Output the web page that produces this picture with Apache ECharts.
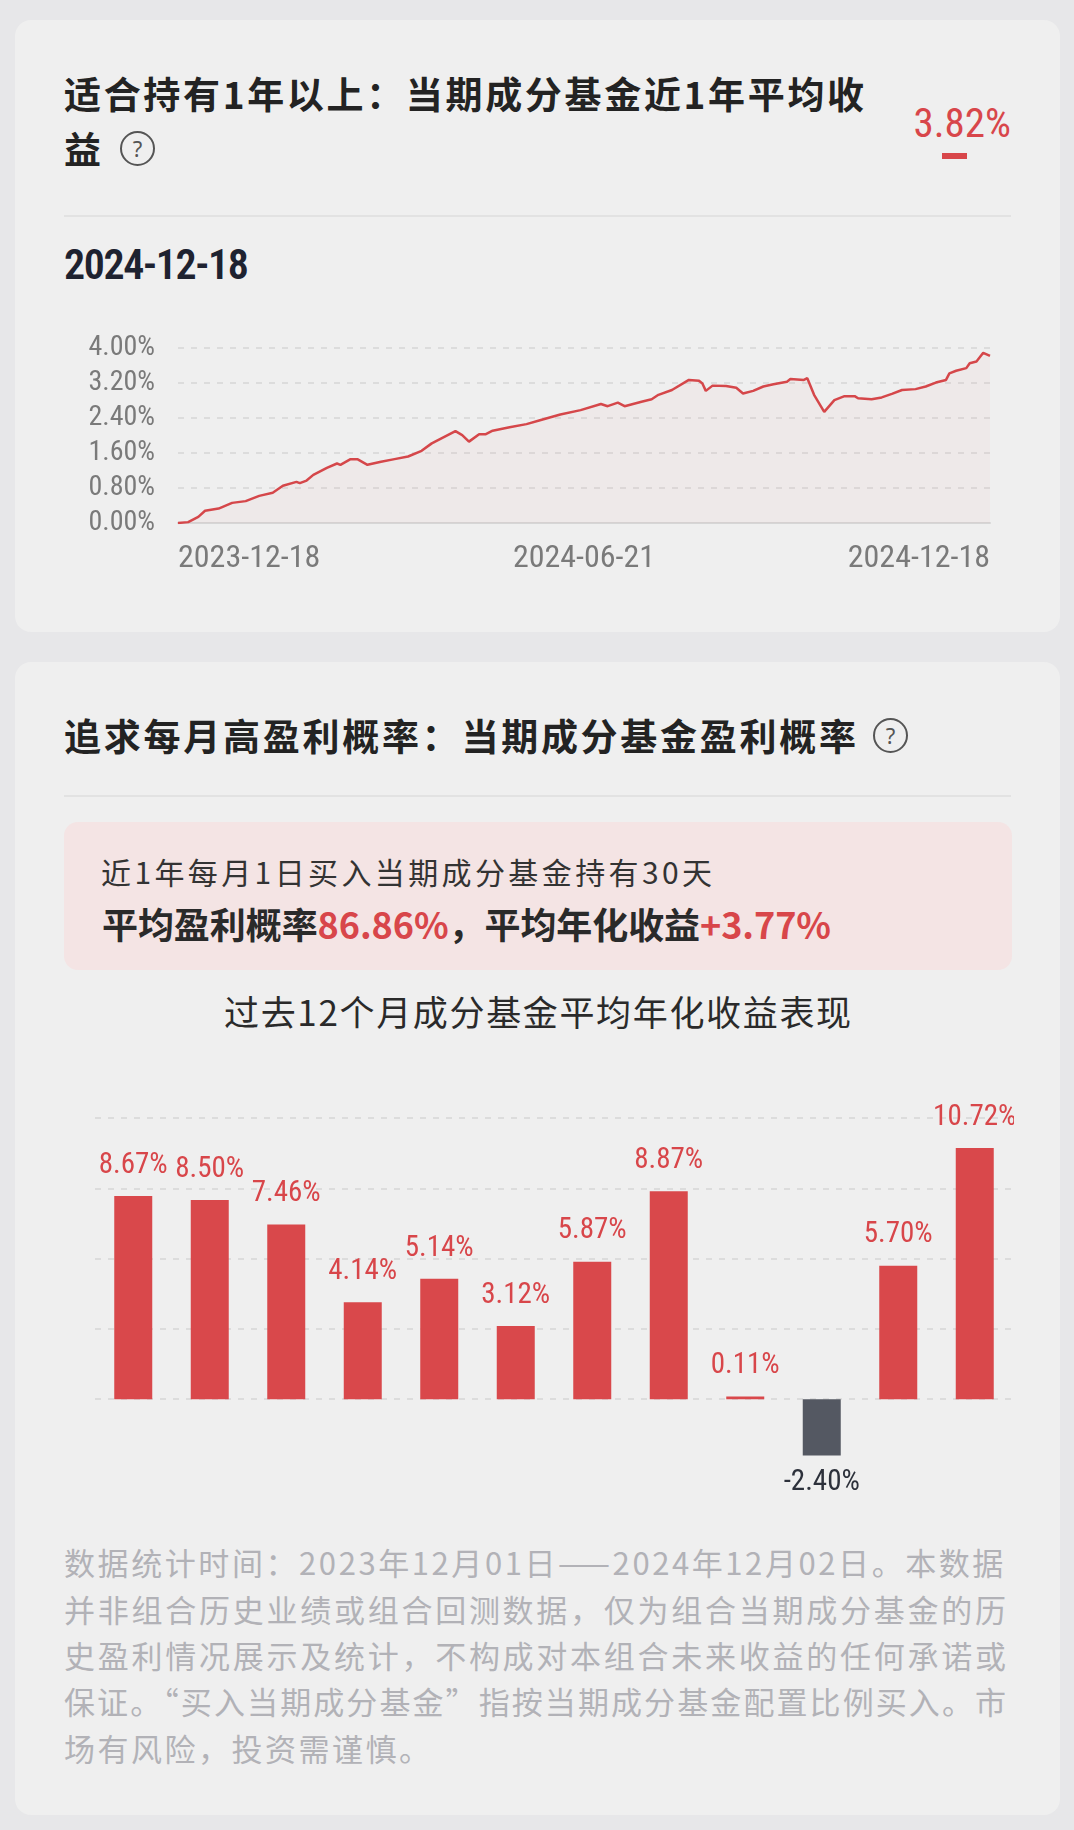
<!DOCTYPE html>
<html>
<head>
<meta charset="utf-8">
<script src="https://cdn.jsdelivr.net/npm/echarts@6/dist/echarts.min.js"></script>
<style>
  html, body { margin: 0; padding: 0; }
  body { width: 1074px; height: 1830px; background: #e7e7e9; position: relative; overflow: hidden;
         font-family: "Noto Sans CJK SC", "Noto Sans", sans-serif; }
  .card { position: absolute; left: 15px; width: 1045px; background: #efefef; border-radius: 16px; }
  .abs { position: absolute; white-space: nowrap; }
  .title { font-size: 37px; font-weight: 700; color: #232323; line-height: 50px; }
  .num { font-family: "Roboto Condensed", Roboto, sans-serif; }
  .qm { position: absolute; width: 31px; height: 31px; border: 2px solid #555; border-radius: 50%;
        font-size: 22px; line-height: 31px; text-align: center; color: #555; font-family: "Noto Sans", sans-serif; }
  .divider { position: absolute; left: 64px; width: 947px; height: 2px; background: #e2e2e2; }
  .foot { font-size: 31px; color: #b2b2b7; line-height: 46px; left: 64px; }
  .red { color: #d8464a; }
</style>
</head>
<body>
<div class="card" style="top:20px;height:612px;"></div>
<div class="card" style="top:662px;height:1153px;"></div>

<!-- card 1 -->
<div class="abs title fit" data-w="800" style="left:64px;top:68px;">适合持有1年以上：当期成分基金近1年平均收</div>
<div class="abs title" style="left:64px;top:123px;">益</div>
<div class="qm" style="left:120px;top:131px;">?</div>
<div class="abs num red" style="right:63px;top:98px;font-size:41px;line-height:50px;">3.82%</div>
<div class="abs" style="left:942px;top:153px;width:25px;height:6px;background:#d8464a;"></div>
<div class="divider" style="top:215px;"></div>
<div class="abs num fit" data-w="185" style="left:64px;top:240px;font-size:42px;line-height:50px;font-weight:600;color:#1e2230;">2024-12-18</div>
<div id="lineChart" class="abs" style="left:0;top:300px;width:1074px;height:300px;"></div>

<!-- card 2 -->
<div class="abs title fit" data-w="792" style="left:64px;top:710px;">追求每月高盈利概率：当期成分基金盈利概率</div>
<div class="qm" style="left:873px;top:718px;">?</div>
<div class="divider" style="top:795px;"></div>
<div class="abs" style="left:64px;top:822px;width:948px;height:148px;background:#f4e4e4;border-radius:14px;"></div>
<div class="abs fit" data-w="611" style="left:101px;top:850px;font-size:30px;line-height:42px;color:#333;">近1年每月1日买入当期成分基金持有30天</div>
<div class="abs fit" data-w="729" style="left:102px;top:900px;font-size:36px;line-height:46px;font-weight:700;color:#2a2a2a;">平均盈利概率<span class="red">86.86%</span>，平均年化收益<span class="red">+3.77%</span></div>
<div class="abs fit" data-w="627" style="left:224px;top:988px;font-size:35px;line-height:46px;color:#2a2a2a;">过去12个月成分基金平均年化收益表现</div>
<div id="barChart" class="abs" style="left:0;top:1080px;width:1014px;height:430px;overflow:hidden;"></div>

<div class="abs foot fit" data-w="942" style="top:1539px;">数据统计时间：2023年12月01日——2024年12月02日。本数据</div>
<div class="abs foot fit" data-w="942" style="top:1586px;">并非组合历史业绩或组合回测数据，仅为组合当期成分基金的历</div>
<div class="abs foot fit" data-w="942" style="top:1632px;">史盈利情况展示及统计，不构成对本组合未来收益的任何承诺或</div>
<div class="abs foot fit" data-w="942" style="top:1678px;">保证。“买入当期成分基金”指按当期成分基金配置比例买入。市</div>
<div class="abs foot" style="top:1725px;letter-spacing:2.5px;">场有风险，投资需谨慎。</div>

<script>
// 近1年收益走势（交易日序号 / 收益%）
var lineDays = [0, 3, 6, 8, 12, 16, 20, 24, 28, 31, 35, 36, 38, 40, 44, 47, 48, 51, 53, 56,
    60, 64, 68, 72, 75, 78, 82, 84, 86, 89, 91, 93, 98, 103, 107, 113, 119, 125, 127, 130,
    132, 137, 140, 142, 146, 151, 154, 155, 156, 158, 162, 165, 167, 170, 173, 176, 180, 181, 185, 186,
    188, 191, 194, 197, 200, 201, 205, 208, 211, 214, 218, 221, 224, 227, 228, 230, 233, 234, 236, 238, 240];
var lineValues = [0.00, 0.02, 0.14, 0.28, 0.33, 0.46, 0.50, 0.62, 0.69, 0.85, 0.94, 0.91, 0.97, 1.10, 1.26, 1.36, 1.33, 1.46, 1.46, 1.33,
    1.40, 1.46, 1.52, 1.65, 1.82, 1.94, 2.10, 2.01, 1.86, 2.03, 2.03, 2.11, 2.19, 2.26, 2.35, 2.48, 2.58, 2.72, 2.67, 2.75,
    2.67, 2.77, 2.83, 2.93, 3.04, 3.27, 3.25, 3.19, 3.02, 3.14, 3.13, 3.09, 2.96, 3.02, 3.12, 3.17, 3.23, 3.29, 3.27, 3.31,
    2.93, 2.54, 2.81, 2.90, 2.90, 2.85, 2.83, 2.87, 2.95, 3.04, 3.06, 3.12, 3.21, 3.27, 3.42, 3.48, 3.54, 3.65, 3.69, 3.89, 3.82];
var lineTickLabels = ['2023-12-18', '2024-06-21', '2024-12-18'];

// 过去12个月平均年化收益
var months = ['2023-12', '2024-01', '2024-02', '2024-03', '2024-04', '2024-05',
    '2024-06', '2024-07', '2024-08', '2024-09', '2024-10', '2024-11'];
var monthReturns = [8.67, 8.50, 7.46, 4.14, 5.14, 3.12, 5.87, 8.87, 0.11, -2.40, 5.70, 10.72];

var RED = '#d8464a';
var numFont = '"Roboto Condensed", Roboto, sans-serif';

// 文字按目标宽度调整字距
document.querySelectorAll('.fit').forEach(function (el) {
    var target = +el.getAttribute('data-w');
    var n = el.textContent.length;
    var w = el.getBoundingClientRect().width;
    el.style.letterSpacing = ((target - w) / (n - 1)).toFixed(2) + 'px';
});

var lineChart = echarts.init(document.getElementById('lineChart'));
var linePoints = lineDays.map(function (d, i) { return [d, lineValues[i]]; });
lineChart.setOption({
    animation: false,
    grid: { left: 178, right: 84, top: 48, height: 175 },
    xAxis: {
        type: 'value', min: 0, max: 240, interval: 120,
        axisLine: { show: true, lineStyle: { color: '#d6d6d6', width: 2 } },
        axisTick: { show: false },
        splitLine: { show: false },
        axisLabel: {
            margin: 20, fontSize: 32, color: '#7a7a7a', fontFamily: numFont,
            alignMinLabel: 'left', alignMaxLabel: 'right',
            formatter: function (v) { return lineTickLabels[Math.round(v / 120)]; }
        }
    },
    yAxis: {
        type: 'value', min: 0, max: 4, interval: 0.8,
        axisLine: { show: false }, axisTick: { show: false },
        splitLine: { showMinLine: false, lineStyle: { color: '#d6d6d6', type: [6, 7], width: 1.5 } },
        axisLabel: {
            margin: 23, fontSize: 28, color: '#7a7a7a', fontFamily: numFont,
            formatter: function (v) { return v.toFixed(2) + '%'; }
        }
    },
    series: [{
        type: 'line', data: linePoints, showSymbol: false,
        lineStyle: { color: '#d5474a', width: 2.5 },
        areaStyle: { color: 'rgba(220,90,90,0.05)' }
    }]
});

var barChart = echarts.init(document.getElementById('barChart'));
var barData = monthReturns.map(function (v) {
    var neg = v < 0;
    return {
        value: v,
        itemStyle: { color: neg ? '#545862' : '#d9484b' },
        label: {
            position: neg ? 'bottom' : 'top',
            distance: neg ? 13 : 16,
            color: neg ? '#2d313b' : RED
        }
    };
});
barChart.setOption({
    animation: false,
    grid: { left: 95, right: 1, top: 38, height: 351.5 },
    xAxis: {
        type: 'category', data: months,
        axisLine: { show: false }, axisTick: { show: false }, axisLabel: { show: false }
    },
    yAxis: {
        type: 'value', min: -3, max: 12, interval: 3,
        axisLine: { show: false }, axisTick: { show: false }, axisLabel: { show: false },
        splitLine: { showMinLine: false, lineStyle: { color: '#d6d6d6', type: [6, 7], width: 1.5 } }
    },
    series: [{
        type: 'bar', data: barData, barWidth: 38,
        label: {
            show: true, fontSize: 29, fontFamily: numFont,
            formatter: function (p) { return p.value.toFixed(2) + '%'; }
        }
    }]
});
</script>
</body>
</html>
